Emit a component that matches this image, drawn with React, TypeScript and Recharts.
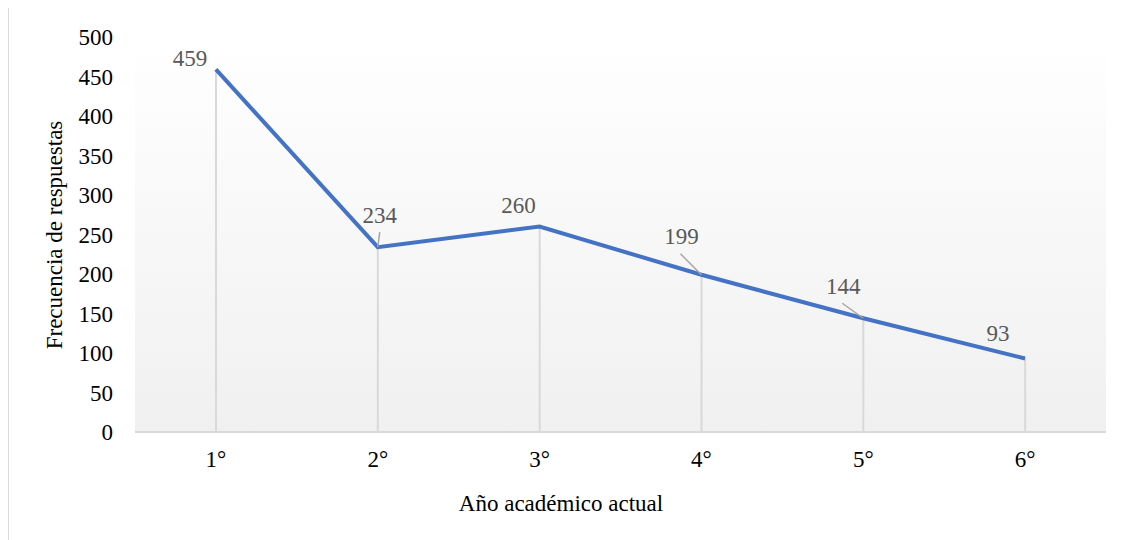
import { ComposedChart, Bar, Line, XAxis, YAxis, CartesianGrid, LabelList } from "recharts";

const categories = ["1°", "2°", "3°", "4°", "5°", "6°"];
const responses = [459, 234, 260, 199, 144, 93];
const yTicks = [0, 50, 100, 150, 200, 250, 300, 350, 400, 450, 500];

// where each data label sits relative to its point, and whether it gets a leader line
const labelOffsets = [
  { dx: -26, dy: -11, leader: null },
  { dx: 2, dy: -32, leader: { x: 2, y: -15 } },
  { dx: -21, dy: -21, leader: null },
  { dx: -20, dy: -38, leader: { x: -21, y: -21 } },
  { dx: -20, dy: -32, leader: { x: -21, y: -15 } },
  { dx: -27, dy: -25, leader: null },
];

const data = categories.map((name, i) => ({ name, value: responses[i] }));

const FONT = "Liberation Serif, Times New Roman, serif";
const tickStyle = { fill: "#000", fontSize: 23, fontFamily: FONT, style: { fontFamily: FONT } };

const DataLabel = (props: any) => {
  const { x, y, value, index } = props;
  const o = labelOffsets[index];
  return (
    <g>
      {o.leader && (
        <line x1={x + o.leader.x} y1={y + o.leader.y} x2={x} y2={y} stroke="#a6a6a6" strokeWidth={1.5} />
      )}
      <text
        x={x + o.dx}
        y={y + o.dy}
        textAnchor="middle"
        dominantBaseline="central"
        fill="#595959"
        fontSize={23}
        style={{ fontFamily: FONT }}
      >
        {value}
      </text>
    </g>
  );
};

export default function App() {
  return (
    <div style={{ position: "relative", width: 1120, height: 532, fontFamily: FONT }}>
      <div
        style={{
          position: "absolute",
          left: -1,
          top: -2,
          right: 0,
          bottom: 0,
          borderTop: "2px solid #d9d9d9",
          borderLeft: "2px solid #d9d9d9",
        }}
      />
      <ComposedChart
        width={1120}
        height={532}
        data={data}
        margin={{ top: 29, right: 22, bottom: 0, left: 0 }}
        style={{ position: "absolute", left: 0, top: 0, fontFamily: FONT }}
      >
        <defs>
          <linearGradient id="plotBg" x1="0" y1="0" x2="0" y2="1">
            <stop offset="0%" stopColor="#ffffff" />
            <stop offset="12%" stopColor="#fdfdfd" />
            <stop offset="100%" stopColor="#f0f0f0" />
          </linearGradient>
        </defs>
        <CartesianGrid horizontal={false} vertical={false} fill="url(#plotBg)" stroke="none" />
        <XAxis
          dataKey="name"
          height={108}
          axisLine={{ stroke: "#d9d9d9", strokeWidth: 2 }}
          tickLine={false}
          tickSize={0}
          tickMargin={19}
          tick={tickStyle}
          label={{
            content: () => (
              <text x={553} y={495} textAnchor="middle" dominantBaseline="central" fill="#000" fontSize={23} style={{ fontFamily: FONT }}>
                Año académico actual
              </text>
            ),
          }}
        />
        <YAxis
          width={127}
          domain={[0, 500]}
          ticks={yTicks}
          axisLine={false}
          tickLine={false}
          tickSize={0}
          tickMargin={22}
          tick={tickStyle}
          label={{
            content: () => (
              <text
                x={46}
                y={227}
                transform="rotate(-90 46 227)"
                textAnchor="middle"
                dominantBaseline="central"
                fill="#000"
                fontSize={23}
                style={{ fontFamily: FONT }}
              >
                Frecuencia de respuestas
              </text>
            ),
          }}
        />
        <Bar dataKey="value" barSize={2} fill="#d9d9d9" isAnimationActive={false} />
        <Line
          dataKey="value"
          stroke="#4472c4"
          strokeWidth={4}
          dot={false}
          activeDot={false}
          isAnimationActive={false}
        >
          <LabelList dataKey="value" content={DataLabel} />
        </Line>
      </ComposedChart>
    </div>
  );
}
